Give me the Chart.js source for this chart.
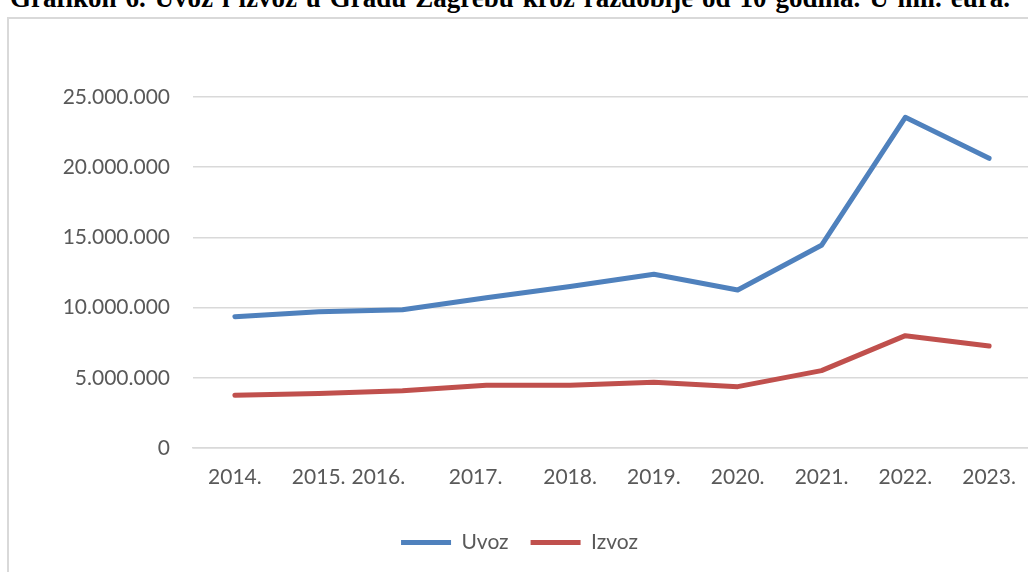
<!DOCTYPE html>
<html>
<head>
<meta charset="utf-8">
<script src="https://cdn.jsdelivr.net/npm/chart.js@4.4.1/dist/chart.umd.min.js"></script>
<style>
  html, body { margin: 0; padding: 0; background: #fff; width: 1028px; height: 572px; overflow: hidden; position: relative; }
  #title { position: absolute; left: 10px; top: -15px; width: 1000px; white-space: nowrap; text-align: justify; text-align-last: justify; font-family: "Liberation Serif", "Times New Roman", serif; font-weight: bold; font-size: 27px; line-height: 27px; color: #000; }
  #frame { position: absolute; left: 7px; top: 17px; width: 1080px; height: 620px; border-left: 2px solid #d9d9d9; border-top: 2px solid #d9d9d9; }
  #wrap { position: absolute; left: 8px; top: 18px; width: 1040px; height: 545px; }
</style>
</head>
<body>
<div id="title">Grafikon 6. Uvoz i izvoz u Gradu Zagrebu kroz razdoblje od 10 godina. U mil. eura.</div>
<div id="frame"></div>
<div id="wrap"><canvas id="c"></canvas></div>
<script>
const years = ['2014.', '2015.', '2016.', '2017.', '2018.', '2019.', '2020.', '2021.', '2022.', '2023.'];
const uvoz  = [9350000, 9700000, 9850000, 10700000, 11500000, 12370000, 11250000, 14440000, 23550000, 20630000];
const izvoz = [3750000, 3880000, 4080000, 4470000, 4470000, 4680000, 4370000, 5510000, 8000000, 7260000];
const yTicks = [0, 5000000, 10000000, 15000000, 20000000, 25000000];

// trailing blanks reproduce the odd label placement of the source chart
const labelTrail = [0, 0, 9, 4, 0, 0, 0, 0, 0, 0];

const fmt = v => String(v).replace(/\B(?=(\d{3})+(?!\d))/g, '.');
const grey = '#595959';
const font = { family: 'Lato', size: 21 };

new Chart(document.getElementById('c'), {
  type: 'line',
  data: {
    labels: years,
    datasets: [
      { label: 'Uvoz', data: uvoz, borderColor: '#4F81BD', backgroundColor: '#4F81BD',
        borderWidth: 5, borderCapStyle: 'round', borderJoinStyle: 'round', pointRadius: 0, tension: 0 },
      { label: 'Izvoz', data: izvoz, borderColor: '#C0504D', backgroundColor: '#C0504D',
        borderWidth: 5, borderCapStyle: 'round', borderJoinStyle: 'round', pointRadius: 0, tension: 0 }
    ]
  },
  options: {
    responsive: true,
    maintainAspectRatio: false,
    animation: false,
    devicePixelRatio: 1,
    layout: { padding: { top: 79, right: 17, left: 0, bottom: 0 } },
    plugins: {
      tooltip: { enabled: false },
      legend: {
        position: 'bottom',
        labels: {
          usePointStyle: true, pointStyle: 'line', pointStyleWidth: 50,
          color: grey, font: font, padding: 22
        }
      }
    },
    scales: {
      x: {
        offset: true,
        grid: { display: false, drawTicks: false },
        border: { display: true, color: '#d9d9d9', width: 1.5 },
        ticks: {
          color: grey, font: font, padding: 17, autoSkip: false, maxRotation: 0, minRotation: 0,
          callback: function (v, i) { return years[i] + '\u00A0'.repeat(labelTrail[i]); }
        },
        afterFit: s => { s.height = 62; }
      },
      y: {
        min: 0, max: 25000000,
        afterBuildTicks: s => { s.ticks = yTicks.map(v => ({ value: v })); },
        grid: { color: '#d9d9d9', lineWidth: 1.5, drawTicks: false },
        border: { display: false },
        ticks: { color: grey, font: font, padding: 23, callback: v => fmt(v) },
        afterFit: s => { s.width = 185; }
      }
    }
  }
});
</script>
</body>
</html>
